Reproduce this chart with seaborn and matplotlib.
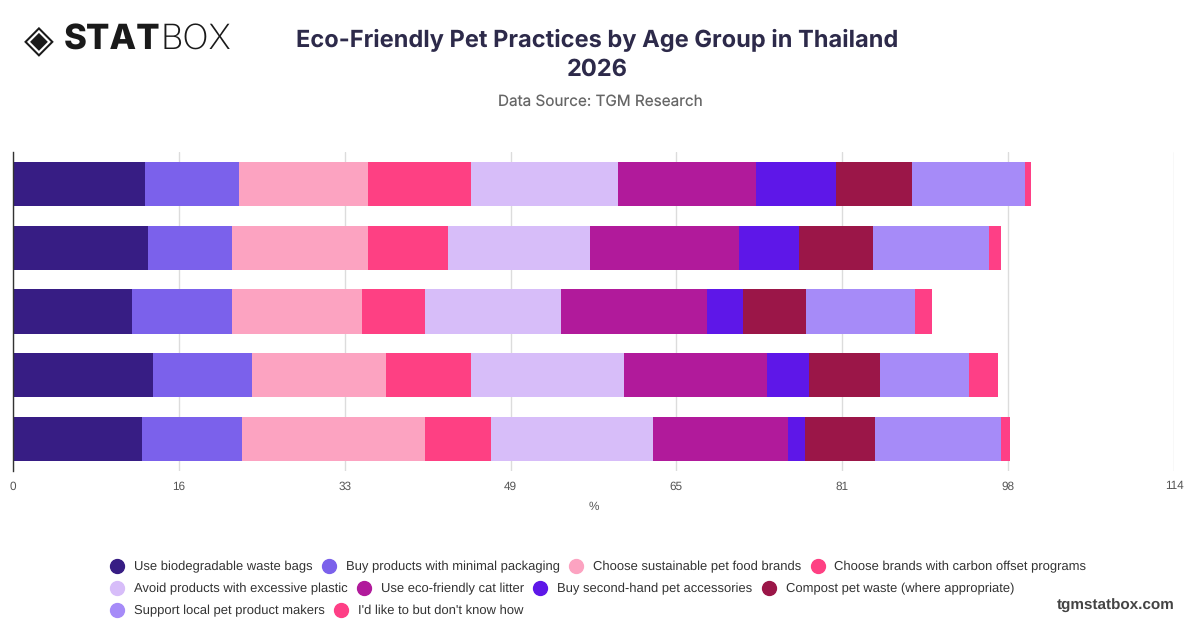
import numpy as np
import pandas as pd
import matplotlib
matplotlib.use("Agg")
import matplotlib.pyplot as plt
import seaborn as sns
from matplotlib.lines import Line2D

# ---------------- data ----------------
age_groups = ["Group 1", "Group 2", "Group 3", "Group 4", "Group 5"]
series_names = [
    "Use biodegradable waste bags",
    "Buy products with minimal packaging",
    "Choose sustainable pet food brands",
    "Choose brands with carbon offset programs",
    "Avoid products with excessive plastic",
    "Use eco-friendly cat litter",
    "Buy second-hand pet accessories",
    "Compost pet waste (where appropriate)",
    "Support local pet product makers",
    "I'd like to but don't know how",
]
biodegradable_bags = [13.0, 13.3, 11.7, 13.7, 12.7]
minimal_packaging = [9.2, 8.2, 9.8, 9.8, 9.8]
sustainable_food = [12.7, 13.4, 12.8, 13.1, 18.0]
carbon_offset = [10.1, 7.8, 6.2, 8.4, 6.4]
avoid_plastic = [14.4, 14.0, 13.3, 15.0, 15.9]
cat_litter = [13.6, 14.6, 14.3, 14.0, 13.3]
second_hand = [7.8, 5.9, 3.6, 4.2, 1.7]
compost = [7.5, 7.2, 6.2, 6.9, 6.8]
support_local = [11.1, 11.4, 10.7, 8.8, 12.4]
dont_know = [0.6, 1.2, 1.6, 2.8, 0.9]

series_values = [biodegradable_bags, minimal_packaging, sustainable_food, carbon_offset,
                 avoid_plastic, cat_litter, second_hand, compost, support_local, dont_know]

colors = ["#371d84", "#7b61eb", "#fca3c1", "#fe4083", "#d7bdf9",
          "#b11a9b", "#5e17e8", "#9b1648", "#a68bf8", "#fe3f86"]

x_max = 114
tick_values = np.linspace(0, x_max, 8)
tick_labels = [str(int(round(v))) for v in tick_values]

# ---------------- figure ----------------
sns.set_theme(style="white")
plt.rcParams["font.family"] = ["Liberation Sans", "DejaVu Sans"]
plt.rcParams["text.hinting"] = "no_hinting"

W, H = 1200, 628
fig = plt.figure(figsize=(12, 6.28), dpi=100)
ax_left, ax_right, ax_top, ax_bot = 13, 1174, 152, 471
ax = fig.add_axes([ax_left / W, 1 - ax_bot / H, (ax_right - ax_left) / W, (ax_bot - ax_top) / H])

df = pd.DataFrame(np.array(series_values).T, columns=series_names)
df.insert(0, "group", age_groups)
cum = df[series_names].cumsum(axis=1)

for i in reversed(range(len(series_names))):
    sns.barplot(x=cum[series_names[i]], y=df["group"], color=colors[i], orient="h",
                width=0.69, saturation=1, ax=ax, linewidth=0)

ax.set_xlim(0, x_max)
ax.set_ylim(4.5, -0.5)
ax.set_xticks(tick_values)
ax.set_xticklabels(tick_labels, color="#555555", fontsize=8.5)
ax.set_yticks([])
ax.set_ylabel("")
ax.set_xlabel("%", color="#555555", fontsize=8.5, labelpad=7)
ax.tick_params(axis="x", length=0, pad=7)
ax.grid(axis="x", color="#dcdcdc", linewidth=1)
ax.set_axisbelow(True)
for s in ["top", "right", "bottom"]:
    ax.spines[s].set_visible(False)
ax.spines["left"].set_color("#333333")
ax.spines["left"].set_linewidth(1)

# ---------------- titles ----------------
fig.text(597 / W, 1 - 40 / H, "Eco-Friendly Pet Practices by Age Group in Thailand",
         ha="center", va="center", fontsize=17, fontweight="bold", color="#2d2a4a",
         family=["Inter", "DejaVu Sans"])
fig.text(597 / W, 1 - 70 / H, "2026",
         ha="center", va="center", fontsize=17, fontweight="bold", color="#2d2a4a",
         family=["Inter", "DejaVu Sans"])
fig.text(600 / W, 1 - 102 / H, "Data Source: TGM Research",
         ha="center", va="center", fontsize=11, color="#666666",
         family=["Inter", "DejaVu Sans"])

# logo
fig.text(24 / W, 1 - 40 / H, "◈", ha="left", va="center", fontsize=28,
         fontweight="bold", color="#1a1a1a", family="DejaVu Sans")
fig.text(64 / W, 1 - 40 / H, "STAT", ha="left", va="center", fontsize=25,
         fontweight="heavy", color="#1a1a1a", family=["Inter", "DejaVu Sans"])
fig.text(160 / W, 1 - 40 / H, "BOX", ha="left", va="center", fontsize=25,
         fontweight="light", color="#1a1a1a", family=["Inter", "DejaVu Sans"])

fig.text(1175 / W, 1 - 606 / H, "tgmstatbox.com", ha="right", va="center",
         fontsize=11, fontweight="bold", color="#444444")

# ---------------- legend (row-flow, left aligned) ----------------
rows = [[0, 1, 2, 3], [4, 5, 6, 7], [8, 9]]
row_y = [567, 589, 611]
for r, yy in zip(rows, row_y):
    handles = [Line2D([0], [0], marker="o", linestyle="", markersize=10,
                      markerfacecolor=colors[i], markeredgecolor=colors[i]) for i in r]
    labels = [series_names[i] for i in r]
    leg = fig.legend(handles, labels, loc="center left",
                     bbox_to_anchor=(111 / W, 1 - yy / H), ncol=len(r),
                     frameon=False, fontsize=9.35, handletextpad=0.8,
                     columnspacing=0.75, borderpad=0, borderaxespad=0, handlelength=1.0)
    for t in leg.get_texts():
        t.set_color("#333333")

fig.savefig("out.png", dpi=100)
